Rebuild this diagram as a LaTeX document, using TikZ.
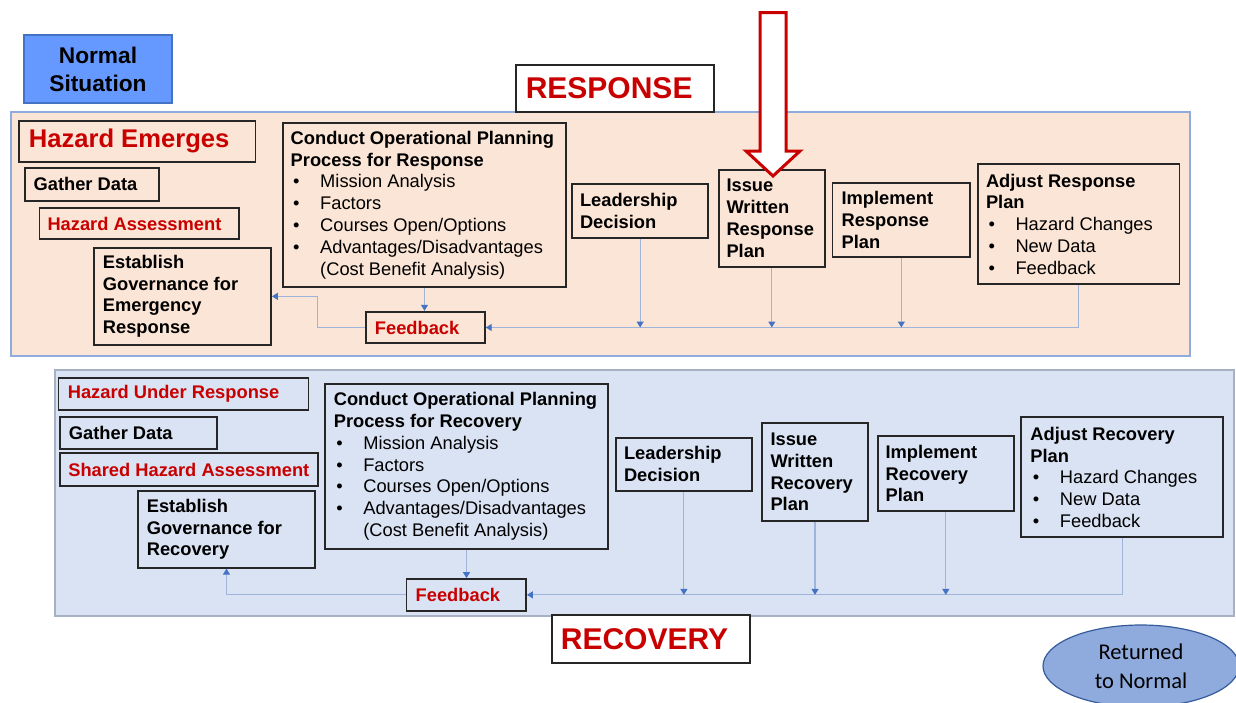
\documentclass[tikz,border=0pt]{standalone}
\usepackage{fontspec}
\setmainfont{Liberation Sans}
\newfontfamily\calib{Carlito}
\usetikzlibrary{arrows.meta,fit,shapes.geometric}
\definecolor{peach}{HTML}{FBE5D6}
\definecolor{lblue}{HTML}{DAE3F3}
\definecolor{panelA}{HTML}{8FAADC}
\definecolor{panelB}{HTML}{A7B1C4}
\definecolor{boxc}{HTML}{262626}
\definecolor{redc}{HTML}{C80000}
\definecolor{linec}{HTML}{9FB4DA}
\definecolor{tipc}{HTML}{4472C4}
\definecolor{normc}{HTML}{6699FF}
\definecolor{ellc}{HTML}{8FAADC}
\newcommand\bx[6][]{\path (#3,#4) coordinate (#2-a) (#5,#6) coordinate (#2-b);
  \node[boxln,#1,fit=(#2-a)(#2-b)] (#2) {};}
\newcommand\bul[1]{\makebox[29.5pt][l]{\hspace{2.5pt}\textbullet}#1}
\newcommand\ind[1]{\hspace*{29.5pt}#1}
\tikzset{
  x=1pt, y=-1pt,
  boxln/.style={draw=boxc, line width=1.8pt, inner sep=0pt},
  tb/.style={anchor=west, inner sep=0pt, align=left, text=black,
    font=\fontsize{18.3}{21.8}\selectfont\bfseries},
  tr/.style={tb, text=redc},
  conn/.style={draw=linec, line width=1.1pt,
    -{Triangle[width=7pt,length=6pt,color=tipc]}},
}
\begin{document}
\begin{tikzpicture}
\useasboundingbox (0,0) rectangle (1236,702);
% panels
\bx[draw=panelA, fill=peach, line width=1.4pt]{resp}{11}{112}{1190}{356}
\bx[draw=panelB, fill=lblue, line width=1.4pt]{reco}{55}{370}{1234}{616}
% normal situation
\bx[fill=normc, draw=tipc, line width=1.2pt]{norm}{24}{35}{172}{103}
\node[align=center, inner sep=0pt, font=\fontsize{22.7}{28}\selectfont\bfseries] at (norm.center) {Normal\\Situation};
% titles
\bx[fill=white]{respt}{516}{65}{714}{112}
\node[tr, font=\fontsize{30}{30}\selectfont\bfseries] at ([xshift=10.5]respt.west) {RESPONSE};
\bx[fill=white]{recot}{551.6}{615}{749.7}{662.7}
\node[tr, font=\fontsize{30}{30}\selectfont\bfseries] at ([xshift=10]recot.west) {RECOVERY};
% ---------- RESPONSE boxes
\bx{emerg}{19}{120.7}{255.4}{161.7}
\node[tr, font=\fontsize{25.6}{28}\selectfont\bfseries] at ([xshift=10.5]emerg.west) {Hazard Emerges};
\bx{gd1}{25.3}{168}{159}{200.7}
\node[tb] at ([xshift=9]gd1.west) {Gather Data};
\bx{ha1}{39.5}{207.7}{238.8}{239.3}
\node[tr] at ([xshift=8.7]ha1.west) {Hazard Assessment};
\bx{est1}{94}{247.7}{271}{345}
\node[tb] at ([xshift=9.6]est1.west) {Establish\\Governance for\\Emergency\\Response};
\bx{cop1}{283}{123}{566}{287}
\node[tb] at ([xshift=8.4]cop1.west) {Conduct Operational Planning\\Process for Response\\\mdseries
  \bul{Mission Analysis}\\\mdseries\bul{Factors}\\\mdseries\bul{Courses Open/Options}\\\mdseries
  \bul{Advantages/Disadvantages}\\\mdseries\ind{(Cost Benefit Analysis)}};
\bx{fb1}{365.8}{311.7}{484.8}{343.3}
\node[tr] at ([xshift=9.8]fb1.west) {Feedback};
\bx{ld1}{572}{184.3}{708.3}{238.3}
\node[tb] at ([xshift=8.7]ld1.west) {Leadership\\Decision};
\bx{iw1}{718.6}{170}{825}{266.7}
\node[tb] at ([xshift=8.6]iw1.west) {Issue\\Written\\Response\\Plan};
\bx{im1}{832.4}{182.7}{970.3}{257.3}
\node[tb] at ([xshift=9.9]im1.west) {Implement\\Response\\Plan};
\bx{ad1}{977.7}{164}{1179.4}{284.3}
\node[tb] at ([xshift=9]ad1.west) {Adjust Response\\Plan\\\mdseries
  \bul{Hazard Changes}\\\mdseries\bul{New Data}\\\mdseries\bul{Feedback}};
% response connectors
\draw[conn] (cop1.south) -- (cop1.south |- fb1.north);
\draw[conn] (fb1.west) -- ([xshift=-47]fb1.west) |- (est1.east);
\draw[conn] (ad1.south) |- (fb1.east);
\draw[conn] (ld1.south) -- (ld1.south |- fb1.east);
\draw[conn] (iw1.south) -- (iw1.south |- fb1.east);
\draw[conn] (im1.south) -- (im1.south |- fb1.east);
% ---------- RECOVERY boxes
\bx{hur}{58.5}{378.3}{308.4}{410}
\node[tr] at ([xshift=10]hur.west) {Hazard Under Response};
\bx{gd2}{60}{417.3}{216.7}{449.3}
\node[tb] at ([xshift=9.6]gd2.west) {Gather Data};
\bx{sha}{60}{453.3}{318.3}{486}
\node[tr] at ([xshift=9]sha.west) {Shared Hazard Assessment};
\bx{est2}{138}{491}{315}{567.7}
\node[tb] at ([xshift=9.5]est2.west) {Establish\\Governance for\\Recovery};
\bx{cop2}{325}{384}{608}{548.7}
\node[tb] at ([xshift=9.5]cop2.west) {Conduct Operational Planning\\Process for Recovery\\\mdseries
  \bul{Mission Analysis}\\\mdseries\bul{Factors}\\\mdseries\bul{Courses Open/Options}\\\mdseries
  \bul{Advantages/Disadvantages}\\\mdseries\ind{(Cost Benefit Analysis)}};
\bx{fb2}{406.5}{579}{526}{610.7}
\node[tr] at ([xshift=9.9]fb2.west) {Feedback};
\bx{ld2}{616}{437.7}{751.8}{490.7}
\node[tb] at ([xshift=8.7]ld2.west) {Leadership\\Decision};
\bx{iw2}{762.2}{423.3}{867.8}{520.7}
\node[tb] at ([xshift=9]iw2.west) {Issue\\Written\\Recovery\\Plan};
\bx{im2}{877.7}{436}{1013.9}{511}
\node[tb] at ([xshift=8.6]im2.west) {Implement\\Recovery\\Plan};
\bx{ad2}{1021.2}{417.3}{1223}{537.3}
\node[tb] at ([xshift=9.9]ad2.west) {Adjust Recovery\\Plan\\\mdseries
  \bul{Hazard Changes}\\\mdseries\bul{New Data}\\\mdseries\bul{Feedback}};
% recovery connectors
\draw[conn] (cop2.south) -- (cop2.south |- fb2.north);
\draw[conn] (fb2.west) -| (est2.south);
\draw[conn] (ad2.south) |- (fb2.east);
\draw[conn] (ld2.south) -- (ld2.south |- fb2.east);
\draw[conn] (iw2.south) -- (iw2.south |- fb2.east);
\draw[conn] (im2.south) -- (im2.south |- fb2.east);
% big red arrow
\coordinate (rtip) at (773,176);
\draw[draw=redc, fill=white, line width=3pt, line join=miter]
  (760,12.7) -- (786,12.7) -- (786,151) -- (800,151) -- (rtip) -- (746,151) -- (760,151) -- cycle;
% returned to normal
\node[ellipse, draw=tipc!80!black, fill=ellc, line width=1.2pt, minimum width=196pt, minimum height=82pt,
  inner sep=0pt, align=center, font=\calib\fontsize{22.5}{28.7}\selectfont] (ret) at (1141,666) {Returned\\to Normal};
\end{tikzpicture}
\end{document}
